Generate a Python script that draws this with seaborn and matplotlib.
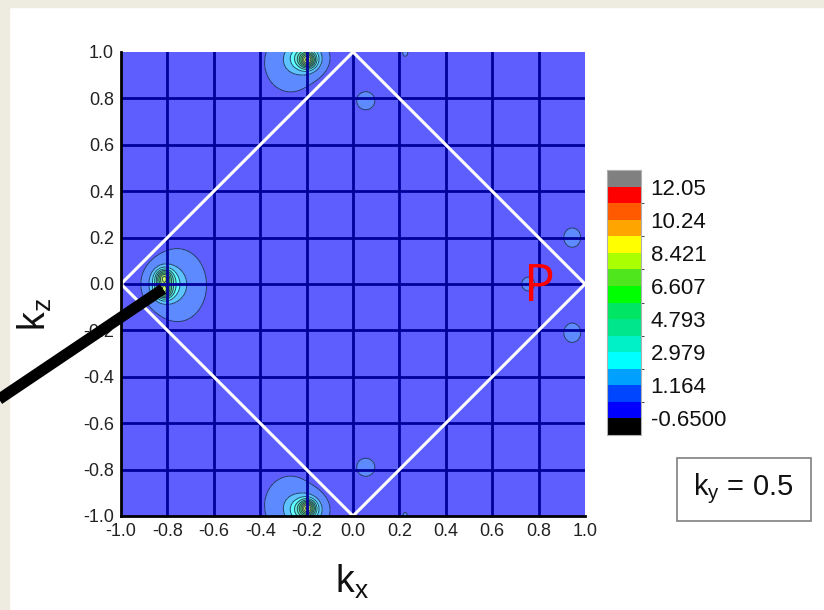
import numpy as np
import matplotlib
matplotlib.use("Agg")
import matplotlib.pyplot as plt
import seaborn as sns
from matplotlib.colors import ListedColormap, BoundaryNorm, to_rgb
from matplotlib.patches import Rectangle
from matplotlib.lines import Line2D
import matplotlib.cm as cm

# Gaussian components of the spectral weight map at k_y = 0.5
peak_kx = [-0.755, -0.81, -0.815, -0.815, -0.27, -0.205, -0.195, -0.27, -0.205, -0.195,
           0.055, 0.055, 0.945, 0.945, 0.755, 0.225, 0.225]
peak_kz = [-0.005, 0.0, 0.03, -0.03, 0.955, 0.975, 0.965, -0.955, -0.975, -0.965,
           0.79, -0.79, 0.20, -0.21, 0.0, 1.0, -1.0]
peak_amp = [1.0, 3.4, 4.2, 4.2, 0.9, 3.4, 5.0, 0.9, 3.4, 5.0,
            0.6, 0.6, 0.6, 0.6, 0.45, 0.4, 0.35]
peak_wx = [0.075, 0.042, 0.022, 0.022, 0.07, 0.045, 0.022, 0.07, 0.045, 0.022,
           0.030, 0.030, 0.028, 0.028, 0.026, 0.012, 0.012]
peak_wz = [0.095, 0.045, 0.022, 0.022, 0.08, 0.04, 0.022, 0.08, 0.04, 0.022,
           0.030, 0.030, 0.032, 0.032, 0.028, 0.020, 0.020]

# colour scale
level_min, level_max, n_bins = -0.65, 12.05, 14
tick_labels = ["-0.6500", "1.164", "2.979", "4.793", "6.607", "8.421", "10.24", "12.05"]
band_colors = ["#0000ff", "#0046ff", "#00a0ff", "#00ffff", "#00f0c8", "#00e68c", "#00e664",
               "#00ff00", "#50e61e", "#aaff00", "#ffff00", "#ffa500", "#ff5a00", "#ff0000"]
under_color, over_color = "#000000", "#808080"

axis_ticks = [-1.0, -0.8, -0.6, -0.4, -0.2, 0.0, 0.2, 0.4, 0.6, 0.8, 1.0]
zone_kx = [-1.0, 0.0, 1.0, 0.0, -1.0]
zone_kz = [0.0, 1.0, 0.0, -1.0, 0.0]

sns.set_style("white")
plt.rcParams["font.family"] = ["Liberation Sans", "DejaVu Sans"]
plt.rcParams["mathtext.fontset"] = "custom"
plt.rcParams["mathtext.rm"] = "Liberation Sans"
plt.rcParams["mathtext.it"] = "Liberation Sans:italic"

W, H = 824, 610
fig = plt.figure(figsize=(W / 100, H / 100), dpi=100, facecolor="white")


def fx(px):
    return px / W


def fy(py):
    return 1 - py / H


# slide frame
beige = "#EEEBE1"
fig.patches.append(Rectangle((0, fy(7)), 1, 7 / H, transform=fig.transFigure,
                             color=beige, zorder=0))
fig.patches.append(Rectangle((0, 0), fx(9), 1, transform=fig.transFigure,
                             color=beige, zorder=0))

# field on a grid
k = np.linspace(-1, 1, 501)
KX, KZ = np.meshgrid(k, k)
F = np.zeros_like(KX)
for x0, z0, a, wx, wz in zip(peak_kx, peak_kz, peak_amp, peak_wx, peak_wz):
    F += a * np.exp(-((KX - x0) ** 2 / (2 * wx ** 2) + (KZ - z0) ** 2 / (2 * wz ** 2)))

levels = np.linspace(level_min, level_max, n_bins + 1)
vivid = sns.color_palette(band_colors, n_colors=n_bins)


def fade(c, a=0.63):
    r, g, b = to_rgb(c)
    return (a * r + 1 - a, a * g + 1 - a, a * b + 1 - a)


cmap_bar = ListedColormap(vivid)
cmap_bar.set_under(under_color)
cmap_bar.set_over(over_color)
cmap_map = ListedColormap([fade(c) for c in vivid])
cmap_map.set_under(fade(under_color))
cmap_map.set_over(fade(over_color))
norm = BoundaryNorm(levels, n_bins)

ax = fig.add_axes([fx(121), fy(516), 464 / W, 464 / H])
ax.contourf(KX, KZ, F, levels=levels, cmap=cmap_map, norm=norm, extend="both", zorder=1)
ax.contour(KX, KZ, F, levels=levels, colors="#1e2850", linewidths=0.7, alpha=0.85, zorder=2)

# grid lines inside the frame
for t in axis_ticks[1:-1]:
    ax.axvline(t, color="#00009a", lw=2, zorder=3)
    ax.axhline(t, color="#00009a", lw=2, zorder=3)

# Brillouin-zone boundary
ax.plot(zone_kx, zone_kz, color="white", lw=2.2, clip_on=False, zorder=5)

ax.set_xlim(-1, 1)
ax.set_ylim(-1, 1)
ax.set_xticks(axis_ticks)
ax.set_yticks(axis_ticks)
ax.set_xticks(np.arange(-0.9, 1.0, 0.2), minor=True)
ax.set_yticks(np.arange(-0.9, 1.0, 0.2), minor=True)
ax.set_xticklabels([f"{t:.1f}" for t in axis_ticks])
ax.set_yticklabels([f"{t:.1f}" for t in axis_ticks])
ax.tick_params(which="both", direction="in", color="black", labelsize=13,
               labelcolor="#222222", top=False, right=False, zorder=6)
ax.tick_params(which="major", length=5, width=1.4, pad=5)
ax.tick_params(which="minor", length=3, width=1.4)
for side in ("top", "right"):
    ax.spines[side].set_visible(False)
for side in ("left", "bottom"):
    ax.spines[side].set_color("black")
    ax.spines[side].set_linewidth(2)
    ax.spines[side].set_zorder(6)

# colour bar
cax = fig.add_axes([fx(607), fy(435), 34 / W, 265 / H])
cb = fig.colorbar(cm.ScalarMappable(norm=norm, cmap=cmap_bar), cax=cax, extend="both",
                  extendrect=True, extendfrac=1 / n_bins, ticks=levels[::2])
cb.set_ticklabels(tick_labels)
cb.ax.tick_params(length=0, labelsize=16, pad=7, labelcolor="#111111")
cb.outline.set_edgecolor("#b0b0b0")
cb.outline.set_linewidth(0.8)

# axis titles
fig.text(fx(352), fy(593), r"$\mathregular{k_x}$", fontsize=27, ha="center",
         va="baseline", color="#111111")
fig.text(fx(46), fy(331), r"$\mathregular{k_z}$", fontsize=27, ha="left",
         va="baseline", rotation=90, rotation_mode="anchor", color="#111111")

# point label
fig.text(fx(539), fy(301), "P", fontsize=37, color="red", ha="center",
         va="baseline", family=["Open Sans", "DejaVu Sans"])

# k_y box
fig.patches.append(Rectangle((fx(677), fy(521)), 134 / W, 63 / H, transform=fig.transFigure,
                             facecolor="white", edgecolor="#808080", lw=1.2, zorder=2))
fig.text(fx(743), fy(495), r"$\mathregular{k_y}$ = 0.5", fontsize=21, ha="center",
         va="baseline", color="#111111", zorder=3)

# pointer to the peak
fig.lines.append(Line2D([fx(-5), fx(163)], [fy(402), fy(289)], transform=fig.transFigure,
                        color="black", lw=8, solid_capstyle="butt", zorder=10))

fig.savefig("out.png", dpi=100)
